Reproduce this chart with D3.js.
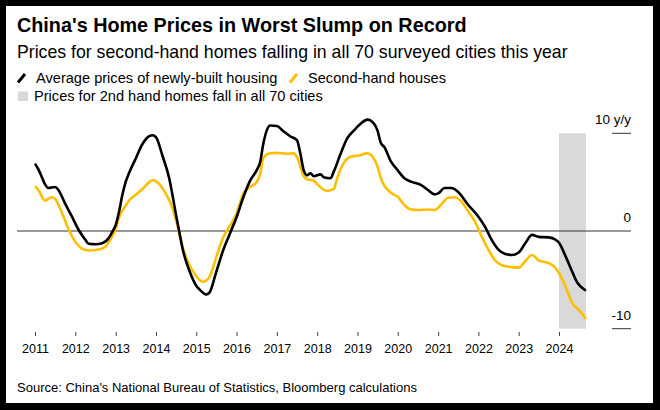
<!DOCTYPE html>
<html>
<head>
<meta charset="utf-8">
<script src="https://cdn.jsdelivr.net/npm/d3@7"></script>
<style>
	html, body { margin: 0; padding: 0; background: #000; }
	svg { display: block; }
	text { font-family: "Liberation Sans", Arial, sans-serif; fill: #000; }
</style>
</head>
<body>
<svg id="chart" width="660" height="410"></svg>
<script>
// y/y % change (month, value)
const newBuilt = [
	['2011-01', 6.9], ['2011-02', 6.3], ['2011-03', 5.6], ['2011-04', 4.8], ['2011-05', 4.4],
	['2011-07', 4.5], ['2011-08', 4.2], ['2011-10', 2.8], ['2011-12', 1.5], ['2012-02', 0.1],
	['2012-04', -0.9], ['2012-05', -1.3], ['2012-07', -1.35], ['2012-09', -1.25], ['2012-11', -0.7],
	['2012-12', -0.1], ['2013-01', 0.6], ['2013-02', 2.0], ['2013-03', 3.6], ['2013-04', 5.0],
	['2013-05', 5.9], ['2013-07', 7.4], ['2013-09', 8.9], ['2013-11', 9.7], ['2013-12', 9.8],
	['2014-01', 9.6], ['2014-03', 7.7], ['2014-05', 5.4], ['2014-06', 3.6], ['2014-07', 1.7],
	['2014-08', -0.1], ['2014-09', -1.9], ['2014-11', -4.1], ['2015-01', -5.6], ['2015-02', -6.0],
	['2015-04', -6.5], ['2015-05', -6.3], ['2015-07', -4.2], ['2015-09', -2.0], ['2015-11', -0.3],
	['2016-01', 1.4], ['2016-03', 3.4], ['2016-05', 5.1], ['2016-07', 6.2], ['2016-08', 7.0],
	['2016-09', 9.0], ['2016-10', 10.3], ['2016-11', 10.8], ['2017-01', 10.75], ['2017-03', 10.2],
	['2017-05', 9.7], ['2017-07', 9.3], ['2017-08', 7.95], ['2017-09', 6.2], ['2017-10', 5.7],
	['2017-11', 5.9], ['2017-12', 5.6], ['2018-02', 5.8], ['2018-03', 5.5], ['2018-05', 5.4],
	['2018-06', 6.1], ['2018-08', 7.9], ['2018-10', 9.5], ['2018-12', 10.3], ['2019-02', 11.0],
	['2019-04', 11.4], ['2019-05', 11.3], ['2019-07', 10.3], ['2019-08', 9.0], ['2019-09', 8.6],
	['2019-11', 7.1], ['2020-01', 6.2], ['2020-03', 5.4], ['2020-05', 5.05], ['2020-08', 4.7],
	['2020-10', 4.2], ['2020-12', 3.75], ['2021-01', 3.85], ['2021-03', 4.4], ['2021-05', 4.4],
	['2021-07', 4.0], ['2021-10', 2.66], ['2022-01', 1.46], ['2022-03', 0.44], ['2022-05', -0.9],
	['2022-07', -1.9], ['2022-09', -2.35], ['2022-11', -2.45], ['2023-01', -2.2], ['2023-03', -1.26],
	['2023-05', -0.4], ['2023-07', -0.6], ['2023-10', -0.65], ['2023-12', -0.9], ['2024-01', -1.2],
	['2024-03', -2.6], ['2024-05', -4.2], ['2024-06', -5.0], ['2024-09', -6.1]
]

const secondHand = [
	['2011-01', 4.6], ['2011-02', 4.2], ['2011-04', 3.1], ['2011-05', 3.3], ['2011-06', 3.45],
	['2011-07', 3.3], ['2011-09', 1.9], ['2011-11', 0.2], ['2012-01', -1.1], ['2012-03', -1.8],
	['2012-05', -2.0], ['2012-08', -1.9], ['2012-10', -1.6], ['2012-11', -1.1], ['2013-01', 0.2],
	['2013-02', 1.4], ['2013-04', 2.6], ['2013-05', 3.1], ['2013-07', 3.7], ['2013-09', 4.3],
	['2013-11', 5.0], ['2013-12', 5.2], ['2014-02', 4.8], ['2014-04', 3.8], ['2014-06', 2.3],
	['2014-07', 1.1], ['2014-09', -1.7], ['2014-11', -3.5], ['2015-01', -4.6], ['2015-03', -5.2],
	['2015-05', -4.7], ['2015-07', -2.7], ['2015-09', -0.7], ['2015-11', 0.5], ['2016-01', 1.8],
	['2016-03', 3.8], ['2016-05', 4.5], ['2016-07', 5.0], ['2016-08', 5.8], ['2016-09', 7.5],
	['2016-11', 7.95], ['2017-01', 8.0], ['2017-04', 7.9], ['2017-06', 7.95], ['2017-07', 7.6],
	['2017-09', 5.6], ['2017-10', 5.3], ['2017-12', 5.15], ['2018-01', 4.8], ['2018-04', 4.1],
	['2018-06', 4.3], ['2018-07', 5.4], ['2018-09', 7.0], ['2018-11', 7.6], ['2019-01', 7.7],
	['2019-04', 7.95], ['2019-05', 7.8], ['2019-07', 6.6], ['2019-08', 5.4], ['2019-11', 3.9],
	['2020-01', 3.5], ['2020-03', 2.66], ['2020-05', 2.2], ['2020-07', 2.15], ['2020-10', 2.2],
	['2020-12', 2.15], ['2021-02', 2.75], ['2021-04', 3.4], ['2021-06', 3.45], ['2021-08', 3.0],
	['2021-10', 2.0], ['2021-12', 0.95], ['2022-02', -0.6], ['2022-04', -1.9], ['2022-06', -3.0],
	['2022-08', -3.5], ['2022-11', -3.7], ['2023-01', -3.75], ['2023-03', -3.1], ['2023-05', -2.45],
	['2023-07', -3.0], ['2023-10', -3.3], ['2023-12', -3.8], ['2024-01', -4.3], ['2024-03', -5.7],
	['2024-05', -7.4], ['2024-07', -8.1], ['2024-09', -9.0]
]

// months when 2nd-hand prices fell in all 70 cities
const fallPeriod = ['2024-01', '2024-09']

const years = d3.range(2011, 2025)
const yTicks = [10, 0, -10]

const parseMonth = d3.utcParse('%Y-%m')

const svg = d3.select('#chart')

// white card on black frame
svg.append('rect')
	.attr('x', 6).attr('y', 6)
	.attr('width', 647).attr('height', 397)
	.attr('fill', '#fff')

const x = d3.scaleUtc()
	.domain([new Date(Date.UTC(2011, 0, 1)), new Date(Date.UTC(2024, 0, 1))])
	.range([35, 559])

const y = d3.scaleLinear()
	.domain([-10, 10])
	.range([328.7, 133.3])

// header
svg.append('text')
	.attr('x', 17).attr('y', 32)
	.style('font-size', '19.8px').style('font-weight', 'bold')
	.text("China's Home Prices in Worst Slump on Record")

svg.append('text')
	.attr('x', 17).attr('y', 57.5)
	.style('font-size', '17.7px')
	.text('Prices for second-hand homes falling in all 70 surveyed cities this year')

// legend
const legend = svg.append('g')
const legendItems = [
	{ label: 'Average prices of newly-built housing', color: '#000', x: 18 },
	{ label: 'Second-hand houses', color: '#ffbf00', x: 290 }
]
legendItems.forEach(d => {
	legend.append('line')
		.attr('x1', d.x).attr('y1', 82.5)
		.attr('x2', d.x + 7).attr('y2', 74)
		.attr('stroke', d.color).attr('stroke-width', 3)
	legend.append('text')
		.attr('x', d.x + 18).attr('y', 83.3)
		.style('font-size', '14.6px')
		.text(d.label)
})
legend.append('rect')
	.attr('x', 18).attr('y', 91.5).attr('width', 10).attr('height', 9.5)
	.attr('fill', '#d9d9d9')
legend.append('text')
	.attr('x', 34).attr('y', 100.6)
	.style('font-size', '14.6px')
	.text('Prices for 2nd hand homes fall in all 70 cities')

// shaded period
svg.append('rect')
	.attr('x', x(parseMonth(fallPeriod[0])))
	.attr('y', y(10))
	.attr('width', x(parseMonth(fallPeriod[1])) - x(parseMonth(fallPeriod[0])))
	.attr('height', y(-10) - y(10))
	.attr('fill', '#d9d9d9')

// y reference lines + labels on the right
const yAxis = svg.append('g')
yAxis.selectAll('line')
	.data(yTicks)
	.enter()
	.append('line')
	.attr('x1', d => d === 0 ? 17 : 612)
	.attr('x2', 631)
	.attr('y1', d => y(d))
	.attr('y2', d => y(d))
	.attr('stroke', '#333')
	.attr('stroke-width', 1)
yAxis.selectAll('text')
	.data(yTicks)
	.enter()
	.append('text')
	.attr('x', 631)
	.attr('y', d => y(d) - 9)
	.attr('text-anchor', 'end')
	.style('font-size', '13.5px')
	.text(d => d === 10 ? '10 y/y' : d)

// x axis
const xAxis = svg.append('g')
	.attr('transform', 'translate(0,332)')
	.call(d3.axisBottom(x)
		.tickValues(years.map(yr => new Date(Date.UTC(yr, 0, 1))))
		.tickFormat(d3.utcFormat('%Y'))
		.tickSize(4)
		.tickPadding(8))
xAxis.select('.domain').remove()
xAxis.selectAll('.tick line').attr('stroke', '#444')
xAxis.selectAll('.tick text')
	.style('font-family', '"Liberation Sans", Arial, sans-serif')
	.style('font-size', '12.5px')
	.attr('fill', '#000')

// lines
const line = d3.line()
	.x(d => x(parseMonth(d[0])))
	.y(d => y(d[1]))
	.curve(d3.curveMonotoneX)

svg.append('path')
	.datum(secondHand)
	.attr('d', line)
	.attr('fill', 'none')
	.attr('stroke', '#ffbf00')
	.attr('stroke-width', 2.6)
	.attr('stroke-linejoin', 'round')

svg.append('path')
	.datum(newBuilt)
	.attr('d', line)
	.attr('fill', 'none')
	.attr('stroke', '#000')
	.attr('stroke-width', 2.6)
	.attr('stroke-linejoin', 'round')

// source
svg.append('text')
	.attr('x', 17).attr('y', 391.5)
	.style('font-size', '13px')
	.text("Source: China's National Bureau of Statistics, Bloomberg calculations")
</script>
</body>
</html>
